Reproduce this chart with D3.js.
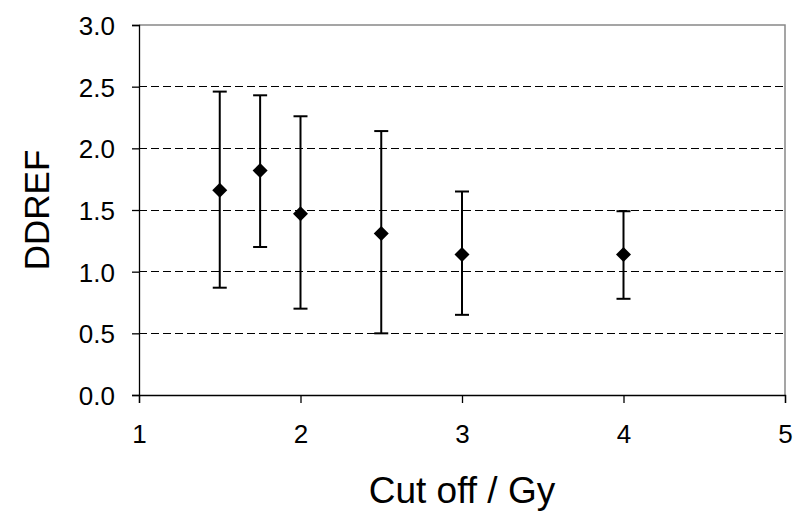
<!DOCTYPE html>
<html>
<head>
<meta charset="utf-8">
<script src="https://cdn.jsdelivr.net/npm/d3@7"></script>
<style>
  body { margin: 0; background: #fff; }
  text { font-family: "Liberation Sans", Arial, sans-serif; fill: #000; }
</style>
</head>
<body>
<div id="chart"></div>
<script>
// DDREF vs cut off dose, with error bars
const cutOff = [1.5, 1.75, 2, 2.5, 3, 4];
const ddref = [1.66, 1.82, 1.47, 1.31, 1.14, 1.14];
const lower = [0.87, 1.20, 0.70, 0.50, 0.65, 0.78];
const upper = [2.46, 2.43, 2.26, 2.14, 1.65, 1.49];
const xTicks = [1, 2, 3, 4, 5];
const yTicks = [0, 0.5, 1, 1.5, 2, 2.5, 3];

const data = cutOff.map((c, i) => ({ x: c, y: ddref[i], lo: lower[i], hi: upper[i] }));

const width = 805, height = 513;
const margin = { top: 25, right: 20, bottom: 118, left: 139 };

const svg = d3.select("#chart")
    .append("svg")
    .attr("width", width)
    .attr("height", height);

const x = d3.scaleLinear()
    .domain([1, 5])
    .range([margin.left, width - margin.right]);

const y = d3.scaleLinear()
    .domain([0, 3])
    .range([height - margin.bottom, margin.top]);

// gridlines (dashed), skip 0 and top
svg.append("g")
    .selectAll("line")
    .data(yTicks.filter((d) => d > 0 && d < 3))
    .join("line")
    .attr("x1", x(1))
    .attr("x2", x(5))
    .attr("y1", (d) => y(d))
    .attr("y2", (d) => y(d))
    .attr("stroke", "#000")
    .attr("stroke-width", 1)
    .attr("stroke-dasharray", "8,4")
    .attr("shape-rendering", "crispEdges");

// top & right border (gray)
svg.append("path")
    .attr("d", `M${x(1)},${y(3)}H${x(5)}V${y(0)}`)
    .attr("fill", "none")
    .attr("stroke", "#888")
    .attr("stroke-width", 1.5);

const xAxis = d3.axisBottom(x).tickValues(xTicks).tickSize(8).tickPadding(22).tickFormat(d3.format("d"));
const yAxis = d3.axisLeft(y).tickValues(yTicks).tickSize(7).tickPadding(17).tickFormat(d3.format(".1f"));

const gx = svg.append("g")
    .attr("transform", `translate(0,${y(0)})`)
    .call(xAxis);

const gy = svg.append("g")
    .attr("transform", `translate(${x(1)},0)`)
    .call(yAxis);

[gx, gy].forEach((g) => {
    g.select(".domain").attr("stroke", "#000").attr("stroke-width", 1.3);
    g.selectAll(".tick line").attr("stroke", "#000").attr("stroke-width", 1.3);
    g.selectAll(".tick text")
        .attr("font-size", "26px")
        .attr("font-family", "Liberation Sans, Arial, sans-serif")
        .attr("fill", "#000");
});
gy.selectAll(".tick text").attr("dy", "0.36em");

// error bars
const bars = svg.append("g").selectAll("g")
    .data(data)
    .join("g");

bars.append("line")
    .attr("x1", (d) => x(d.x))
    .attr("x2", (d) => x(d.x))
    .attr("y1", (d) => y(d.lo))
    .attr("y2", (d) => y(d.hi))
    .attr("stroke", "#000")
    .attr("stroke-width", 2);

bars.selectAll("line.cap")
    .data((d) => [{ x: d.x, v: d.lo }, { x: d.x, v: d.hi }])
    .join("line")
    .attr("class", "cap")
    .attr("x1", (d) => x(d.x) - 7)
    .attr("x2", (d) => x(d.x) + 7)
    .attr("y1", (d) => y(d.v))
    .attr("y2", (d) => y(d.v))
    .attr("stroke", "#000")
    .attr("stroke-width", 2);

// diamond markers
svg.append("g").selectAll("path")
    .data(data)
    .join("path")
    .attr("d", (d) => {
        const cx = x(d.x), cy = y(d.y), r = 7.5;
        return `M${cx},${cy - r}L${cx + r},${cy}L${cx},${cy + r}L${cx - r},${cy}Z`;
    })
    .attr("fill", "#000");

// axis titles
svg.append("text")
    .attr("x", (x(1) + x(5)) / 2)
    .attr("y", 503)
    .attr("text-anchor", "middle")
    .attr("font-size", "37px")
    .text("Cut off / Gy");

svg.append("text")
    .attr("transform", "rotate(-90)")
    .attr("x", -(y(0) + y(3)) / 2)
    .attr("y", 49)
    .attr("text-anchor", "middle")
    .attr("font-size", "35px")
    .text("DDREF");
</script>
</body>
</html>
